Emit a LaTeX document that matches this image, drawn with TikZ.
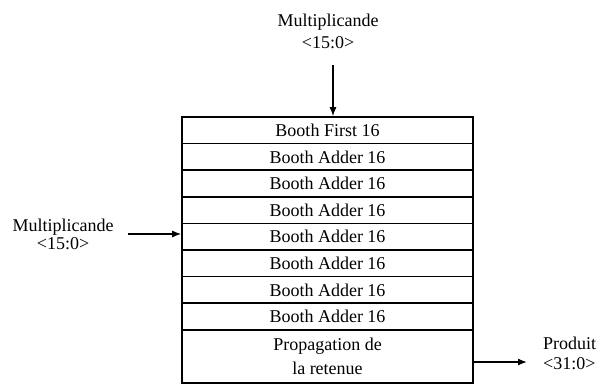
\documentclass[tikz,border=0pt]{standalone}
\usepackage{fontspec}
\setmainfont{Liberation Serif}
\usetikzlibrary{arrows.meta}
\begin{document}
\begin{tikzpicture}[x=1pt,y=-1pt,
  rowbox/.style={draw,line width=1.6pt,minimum width=291pt,minimum height=26.6pt,inner sep=0pt,font=\fontsize{18}{22}\selectfont},
  lbl/.style={inner sep=0pt,align=center},
  conn/.style={line width=1.3pt,-{Latex[length=9pt,width=7pt]}}]
\useasboundingbox (0,0) rectangle (611,385);
\node[rowbox] (r1) at (327.5,130.3) {Booth First 16};
\node[rowbox] (r2) at (327.5,156.9) {Booth Adder 16};
\node[rowbox] (r3) at (327.5,183.5) {Booth Adder 16};
\node[rowbox] (r4) at (327.5,210.1) {Booth Adder 16};
\node[rowbox] (r5) at (327.5,236.7) {Booth Adder 16};
\node[rowbox] (r6) at (327.5,263.3) {Booth Adder 16};
\node[rowbox] (r7) at (327.5,289.9) {Booth Adder 16};
\node[rowbox] (r8) at (327.5,316.5) {Booth Adder 16};
\node[rowbox,minimum height=53pt,align=center,font=\fontsize{18}{24}\selectfont] (prop) at (327.5,356.5) {Propagation de\\la retenue};
\node[lbl,font=\fontsize{18}{22}\selectfont] (mt) at (328,31) {Multiplicande\\<15:0>};
\node[lbl,font=\fontsize{18}{18}\selectfont] (ml) at (63,234) {Multiplicande\\<15:0>};
\node[lbl,align=left,anchor=west,font=\fontsize{18}{20}\selectfont] (pr) at (543,353) {Produit\\<31:0>};
\coordinate (tstart) at (333,65);
\coordinate (lstart) at (128,234);
\coordinate (rend) at (527,362);
\draw[conn] (tstart) -- (tstart |- r1.north);
\draw[conn] (lstart) -- (lstart -| r5.west);
\draw[conn] (rend -| prop.east) -- (rend);
\end{tikzpicture}
\end{document}
